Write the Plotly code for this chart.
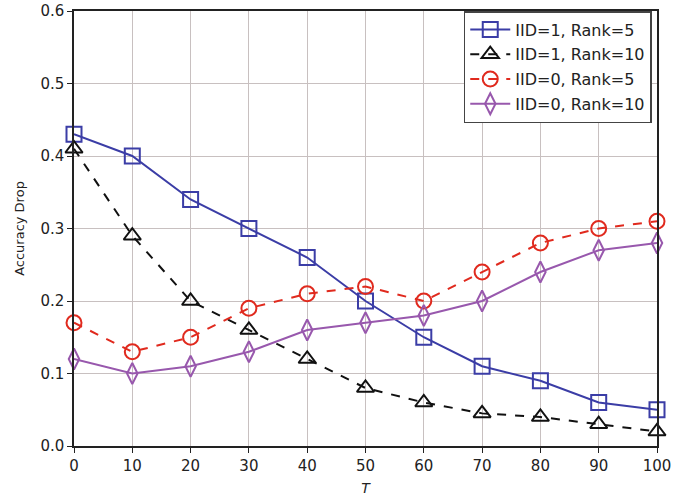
import plotly.graph_objects as go

T = [0, 10, 20, 30, 40, 50, 60, 70, 80, 90, 100]
iid1_rank5 = [0.43, 0.40, 0.34, 0.30, 0.26, 0.20, 0.15, 0.11, 0.09, 0.06, 0.05]
iid1_rank10 = [0.41, 0.29, 0.20, 0.16, 0.12, 0.08, 0.06, 0.045, 0.04, 0.03, 0.02]
iid0_rank5 = [0.17, 0.13, 0.15, 0.19, 0.21, 0.22, 0.20, 0.24, 0.28, 0.30, 0.31]
iid0_rank10 = [0.12, 0.10, 0.11, 0.13, 0.16, 0.17, 0.18, 0.20, 0.24, 0.27, 0.28]

series = [
    ("IID=1, Rank=5", iid1_rank5, "#3b3da6", "solid", "square-open"),
    ("IID=1, Rank=10", iid1_rank10, "#111111", "dash", "triangle-up-open"),
    ("IID=0, Rank=5", iid0_rank5, "#e02a1e", "dash", "circle-open"),
    ("IID=0, Rank=10", iid0_rank10, "#9858ad", "solid", "diamond-tall-open"),
]

fig = go.Figure()
for i, (name, ys, color, dash, sym) in enumerate(series):
    fig.add_trace(go.Scatter(
        x=T, y=ys, name=name, mode="lines+markers", legendgroup=f"g{i}",
        line=dict(color=color, width=2, dash=dash),
        marker=dict(symbol=sym, size=15, color=color, line=dict(width=2, color=color)),
        cliponaxis=False,
    ))

axis_common = dict(
    showline=True, linecolor="#222222", linewidth=1.5, mirror=True,
    ticks="outside", ticklen=5, tickcolor="#222222",
    showgrid=True, gridcolor="#c8c0c0", gridwidth=1,
    zeroline=False, automargin=False,
    tickfont=dict(family="DejaVu Sans", size=15, color="#222222"),
)

fig.update_layout(
    width=673, height=497,
    margin=dict(l=74, r=16, t=11, b=51),
    plot_bgcolor="white", paper_bgcolor="white",
    font=dict(family="DejaVu Sans", color="#222222"),
    xaxis=dict(range=[0, 100], tickvals=T,
               title=dict(text="<i>T</i>", font=dict(size=14), standoff=9), **axis_common),
    yaxis=dict(range=[0, 0.6], dtick=0.1, tickformat=".1f",
               title=dict(text="Accuracy Drop", font=dict(size=13), standoff=13), **axis_common),
    legend=dict(x=0.991, y=1.0, xanchor="right", yanchor="top",
                bgcolor="white", bordercolor="#444444", borderwidth=1.5,
                font=dict(size=16, color="#222222"), tracegroupgap=1, itemwidth=40),
    showlegend=True,
)

fig.write_html("out.html", config={"displayModeBar": False},
               post_script="document.body.style.margin='0';")
